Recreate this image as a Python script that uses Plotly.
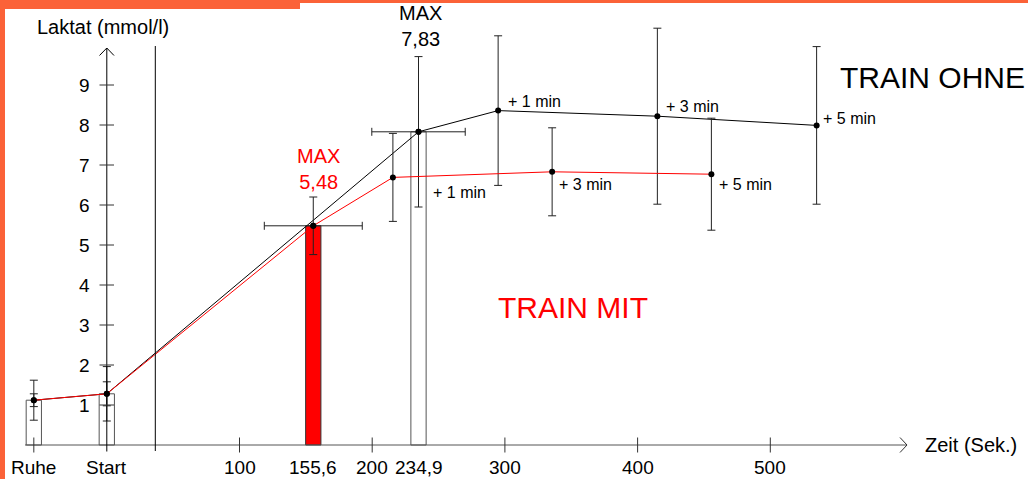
import plotly.graph_objects as go

# ---------------- data ----------------
# TRAIN OHNE (black series)
ohne_x = [-55, 0, 234.9, 294.9, 414.9, 534.9]
ohne_y = [1.12, 1.28, 7.83, 8.36, 8.22, 7.99]
ohne_err = [0.5, 0.68, 1.88, 1.87, 2.2, 1.97]
ohne_labels = ["", "", "", "+ 1 min", "+ 3 min", "+ 5 min"]

# TRAIN MIT (red series)
mit_x = [-55, 0, 155.6, 215.6, 335.6, 455.6]
mit_y = [1.12, 1.28, 5.48, 6.69, 6.83, 6.77]
mit_err = [0.16, 0.3, 0.72, 1.1, 1.1, 1.4]
mit_labels = ["", "", "", "+ 1 min", "+ 3 min", "+ 5 min"]

# horizontal error on the maxima (seconds)
max_ohne_xerr = 35.2
max_mit_xerr = 36.9

# bars
open_bar_x = [-55, 0, 234.9]
open_bar_y = [1.12, 1.28, 7.83]
red_bar_x = [155.6]
red_bar_y = [5.48]

# ticks
x_tick_vals = [-55, 0, 100, 155.6, 200, 234.9, 300, 400, 500]
x_tick_text = ["Ruhe", "Start", "100", "155,6", "200", "234,9", "300", "400", "500"]
x_tick_marks = [-55, 100, 200, 300, 400, 500]
y_tick_vals = [1, 2, 3, 4, 5, 6, 7, 8, 9]
y_tick_text = ["1", "2", "3", "4", "5", "6", "7", "8", "9"]

# ---------------- geometry helpers (pixel -> data) ----------------
W, H = 1028, 479
X0, XS = 106.8, 1.327
Y0, YS = 445.0, 40.0
def dx(px): return (px - X0) / XS
def dy(py): return (Y0 - py) / YS

FONT = "Liberation Sans, Arial, sans-serif"
ORANGE = "#FB6238"
BAR_W = 11.5

fig = go.Figure()

# open bars
fig.add_trace(go.Bar(x=open_bar_x, y=open_bar_y, width=BAR_W,
                     marker=dict(color="rgba(0,0,0,0)", line=dict(color="#555", width=1)),
                     showlegend=False, hoverinfo="skip"))
# red bar
fig.add_trace(go.Bar(x=red_bar_x, y=red_bar_y, width=BAR_W,
                     marker=dict(color="#FF0000", line=dict(color="#333", width=1)),
                     showlegend=False, hoverinfo="skip"))

# black series
fig.add_trace(go.Scatter(
    x=ohne_x, y=ohne_y, mode="lines+markers",
    line=dict(color="black", width=1),
    marker=dict(color="black", size=6),
    error_y=dict(type="data", array=ohne_err, color="#222", thickness=1, width=4),
    showlegend=False))
# red series
fig.add_trace(go.Scatter(
    x=mit_x, y=mit_y, mode="lines+markers",
    line=dict(color="#FF0000", width=1),
    marker=dict(color="black", size=6),
    error_y=dict(type="data", array=mit_err, color="#222", thickness=1, width=4),
    showlegend=False))
# horizontal error bars at maxima
fig.add_trace(go.Scatter(
    x=[ohne_x[2]], y=[ohne_y[2]], mode="markers",
    marker=dict(color="black", size=6),
    error_x=dict(type="data", array=[max_ohne_xerr], color="#222", thickness=1, width=4),
    showlegend=False))
fig.add_trace(go.Scatter(
    x=[mit_x[2]], y=[mit_y[2]], mode="markers",
    marker=dict(color="black", size=6),
    error_x=dict(type="data", array=[max_mit_xerr], color="#222", thickness=1, width=4),
    showlegend=False))

shapes = []
# x axis line + arrow
shapes.append(dict(type="line", x0=dx(25), x1=dx(907), y0=0, y1=0, line=dict(color="#555", width=1)))
shapes.append(dict(type="path", path=f"M {dx(900)},{dy(437.5)} L {dx(907)},0 L {dx(900)},{dy(452.5)}",
                   line=dict(color="#333", width=1)))
# y axis line + arrow
shapes.append(dict(type="line", x0=0, x1=0, y0=dy(451.5), y1=dy(48), line=dict(color="black", width=1)))
shapes.append(dict(type="path", path=f"M {dx(99.5)},{dy(55.5)} L 0,{dy(48)} L {dx(114)},{dy(55.5)}",
                   line=dict(color="black", width=1)))
# vertical separator
shapes.append(dict(type="line", x0=dx(155.3), x1=dx(155.3), y0=dy(451), y1=dy(46),
                   line=dict(color="black", width=1)))
# x tick marks
for v in x_tick_marks:
    shapes.append(dict(type="line", x0=v, x1=v, y0=dy(437.5), y1=dy(452.5), line=dict(color="#333", width=1)))
# y tick marks
for v in y_tick_vals:
    shapes.append(dict(type="line", x0=dx(99.5), x1=dx(114), y0=v, y1=v, line=dict(color="#333", width=1)))
# orange frame
shapes.append(dict(type="rect", xref="paper", yref="paper", x0=0, x1=5 / W, y0=0, y1=1,
                   fillcolor=ORANGE, line=dict(width=0), layer="above"))
shapes.append(dict(type="rect", xref="paper", yref="paper", x0=0, x1=1, y0=1 - 3 / H, y1=1,
                   fillcolor=ORANGE, line=dict(width=0), layer="above"))
shapes.append(dict(type="rect", xref="paper", yref="paper", x0=0, x1=300 / W, y0=1 - 9 / H, y1=1,
                   fillcolor=ORANGE, line=dict(width=0), layer="above"))

ann = []
def txt(x, y, text, size, color="black", xanchor="center", yanchor="middle", xshift=0, yshift=0):
    ann.append(dict(x=x, y=y, text=text, showarrow=False, xanchor=xanchor, yanchor=yanchor,
                    xshift=xshift, yshift=yshift, font=dict(family=FONT, size=size, color=color)))

# x tick labels
for v, t in zip(x_tick_vals, x_tick_text):
    txt(v, dy(467), t, 19)
# y tick labels
for v, t in zip(y_tick_vals, y_tick_text):
    txt(dx(92), v, t, 19, xanchor="right")
# axis titles
txt(dx(103), dy(27), "Laktat (mmol/l)", 20)
txt(dx(923), dy(445), "Zeit (Sek.)", 20, xanchor="left")

# maxima labels
txt(ohne_x[2], ohne_y[2], "MAX<br>7,83", 20, xshift=2, yshift=106)
txt(mit_x[2], mit_y[2], "MAX<br>5,48", 20, color="#FF0000", xshift=5, yshift=57)

# + min labels
ohne_shift = {3: (8, 9), 4: (7, 10), 5: (4, 7)}
for i, (xs, ys) in ohne_shift.items():
    txt(ohne_x[i], ohne_y[i], ohne_labels[i], 16, xanchor="left", xshift=xs, yshift=ys)
mit_shift = {3: (38, -15), 4: (5, -13), 5: (6, -10)}
for i, (xs, ys) in mit_shift.items():
    txt(mit_x[i], mit_y[i], mit_labels[i], 16, xanchor="left", xshift=xs, yshift=ys)

# series names
txt(dx(838), dy(77), "TRAIN OHNE", 30, xanchor="left")
txt(dx(496), dy(307), "TRAIN MIT", 30, color="#FF0000", xanchor="left")

fig.update_layout(
    width=W, height=H, autosize=False,
    margin=dict(l=0, r=0, t=0, b=0, pad=0),
    paper_bgcolor="white", plot_bgcolor="white",
    barmode="overlay",
    xaxis=dict(range=[dx(0), dx(W)], visible=False, fixedrange=True),
    yaxis=dict(range=[dy(H), dy(0)], visible=False, fixedrange=True),
    shapes=shapes, annotations=ann,
    font=dict(family=FONT),
)

fig.write_html("out.html",
               config={"displayModeBar": False},
               post_script="document.body.style.margin='0';document.body.style.overflow='hidden';")
